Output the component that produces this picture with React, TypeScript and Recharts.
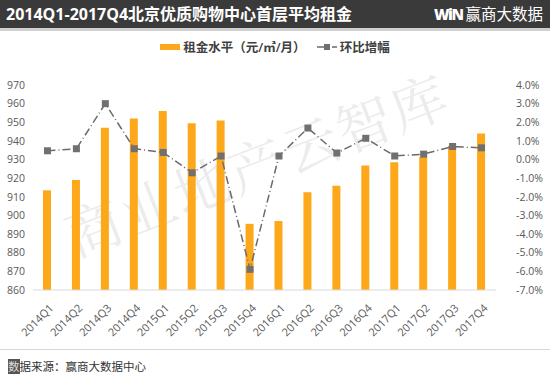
import React from "react";
import { ComposedChart, Bar, Line, XAxis, YAxis, Legend } from "recharts";

const quarters = [
  "2014Q1", "2014Q2", "2014Q3", "2014Q4",
  "2015Q1", "2015Q2", "2015Q3", "2015Q4",
  "2016Q1", "2016Q2", "2016Q3", "2016Q4",
  "2017Q1", "2017Q2", "2017Q3", "2017Q4",
];
const rent = [913.5, 919, 947, 952, 956, 949.5, 951, 895.5, 897, 912.5, 916, 926.8, 928.6, 931.4, 937.5, 944];
const growth = [0.47, 0.58, 3.0, 0.58, 0.38, -0.71, 0.19, -5.89, 0.19, 1.69, 0.35, 1.14, 0.19, 0.29, 0.7, 0.63];
const leftTicks = [860, 870, 880, 890, 900, 910, 920, 930, 940, 950, 960, 970];
const rightTicks = [-7, -6, -5, -4, -3, -2, -1, 0, 1, 2, 3, 4];

const data = quarters.map((q, i) => ({ q, rent: rent[i], growth: growth[i] }));

const BAR_COLOR = "#FDA81A";
const LINE_COLOR = "#6b6b6b";
const FONT = "'Open Sans', 'Noto Sans CJK SC', sans-serif";

const XTick = (props: any) => {
  const { x, y, payload } = props;
  return (
    <g transform={`translate(${x + 4},${y + 8})`}>
      <text transform="rotate(-45)" textAnchor="end" dy={4} fontSize={11} fill="#595959" fontFamily={FONT}>
        {payload.value}
      </text>
    </g>
  );
};

const LegendContent = () => (
  <div style={{ display: "flex", justifyContent: "center", alignItems: "center", fontSize: 12.5, color: "#404040", fontFamily: FONT, fontWeight: 600 }}>
    <span style={{ display: "inline-block", width: 20, height: 6, background: BAR_COLOR, marginRight: 3 }} />
    <span>租金水平（元/㎡/月）</span>
    <svg width={22} height={10} style={{ marginLeft: 10, marginRight: 2 }}>
      <line x1={1} y1={5} x2={21} y2={5} stroke={LINE_COLOR} strokeWidth={1.5} strokeDasharray="8 3 1 3" />
      <rect x={8} y={2} width={6} height={6} fill="#707070" />
    </svg>
    <span>环比增幅</span>
  </div>
);

const Square = (props: any) => {
  const { cx, cy } = props;
  if (cx == null || cy == null) return null;
  return <rect x={cx - 3.5} y={cy - 3.5} width={7} height={7} fill="#707070" />;
};

export default function App() {
  return (
    <div style={{ position: "absolute", left: 0, top: 0, width: 550, height: 376, background: "#fff", fontFamily: FONT, overflow: "hidden" }}>
      <div style={{ position: "absolute", left: 0, top: 0, width: 550, height: 28, background: "#3b3a3a" }} />
      <div style={{ position: "absolute", left: 0, top: 28, width: 550, height: 3, background: "#cfcfcf" }} />
      <div style={{ position: "absolute", left: 6, top: 3, color: "#fff", fontSize: 16, fontWeight: 700, lineHeight: "22px", whiteSpace: "nowrap" }}>
        2014Q1-2017Q4北京优质购物中心首层平均租金
      </div>
      <div style={{ position: "absolute", left: 434, top: 4, color: "#fff", fontSize: 15.5, lineHeight: "20px", whiteSpace: "nowrap" }}>
        <span style={{ fontWeight: 800, fontSize: 15, letterSpacing: -1.5, marginRight: 3 }}>WiN</span>赢商大数据
      </div>
      <div style={{ position: "absolute", left: 52, top: 198, transform: "rotate(-21deg)", transformOrigin: "left top", color: "#000", opacity: 0.07, fontSize: 56, fontFamily: "'Noto Serif CJK SC', 'Noto Sans CJK SC', serif", whiteSpace: "nowrap", letterSpacing: 2, pointerEvents: "none" }}>
        商业地产云智库
      </div>
      <div style={{ position: "absolute", left: 0, top: 0 }}>
        <ComposedChart width={550} height={350} data={data} margin={{ top: 66, right: 0, bottom: 0, left: 0 }} barCategoryGap={10}>
          <XAxis dataKey="q" height={60} tick={<XTick />} tickLine={false} axisLine={{ stroke: "#d9d9d9" }} interval={0} />
          <YAxis yAxisId="left" width={33} domain={[860, 970]} ticks={leftTicks} tickLine={false} axisLine={false} tickSize={0} tickMargin={8} tick={{ fontSize: 10.5, fill: "#595959", fontFamily: FONT }} interval={0} />
          <YAxis yAxisId="right" orientation="right" width={54} domain={[-7, 4]} ticks={rightTicks} tickLine={false} axisLine={false} tickSize={0} tickMargin={20} tickFormatter={(v: number) => `${v.toFixed(1)}%`} tick={{ fontSize: 10.5, fill: "#595959", fontFamily: FONT, textAnchor: "start" }} interval={0} />
          <Legend verticalAlign="top" content={<LegendContent />} wrapperStyle={{ top: 37, left: 0, width: 550 }} />
          <Bar yAxisId="left" dataKey="rent" fill={BAR_COLOR} barSize={8} isAnimationActive={false} />
          <Line yAxisId="right" dataKey="growth" type="linear" stroke={LINE_COLOR} strokeWidth={1.5} strokeDasharray="8 3 1 3" dot={<Square />} activeDot={false} isAnimationActive={false} />
        </ComposedChart>
      </div>
      <div style={{ position: "absolute", left: 0, top: 349, width: 550, height: 1, background: "#d6d6d6" }} />
      <div style={{ position: "absolute", left: 8, top: 359, fontSize: 11.5, color: "#333", lineHeight: "16px", whiteSpace: "nowrap" }}>
        <span style={{ background: "#555", color: "#ddd" }}>数</span>据来源：赢商大数据中心
      </div>
    </div>
  );
}
